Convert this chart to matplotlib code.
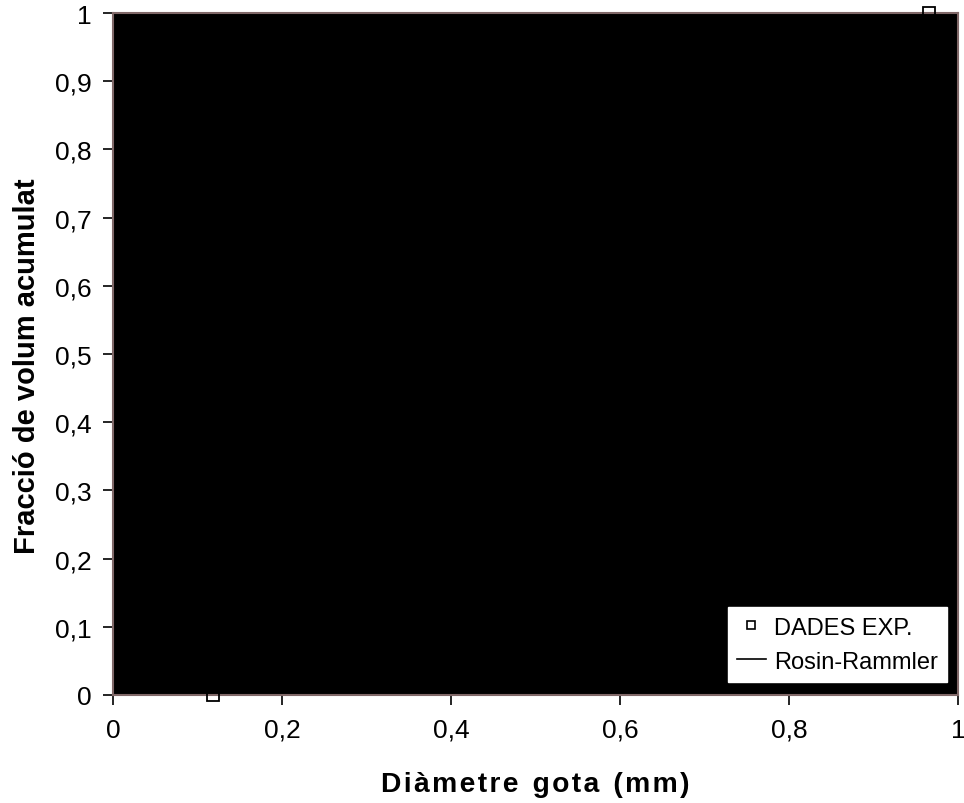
import matplotlib
matplotlib.use("Agg")
import matplotlib.pyplot as plt

# Data
exp_x = [0.118, 0.966]
exp_y = [0.0, 1.0]
rr_x = [0.118, 0.966]
rr_y = [0.0, 1.0]
xticks = [0, 0.2, 0.4, 0.6, 0.8, 1]
yticks = [0, 0.1, 0.2, 0.3, 0.4, 0.5, 0.6, 0.7, 0.8, 0.9, 1]

def fmt(v):
    return ("%g" % v).replace(".", ",")

plt.rcParams['font.family'] = ['Liberation Sans', 'DejaVu Sans']

W, H = 964, 804
L, R, T, B = 113, 958, 14, 696
fig = plt.figure(figsize=(W/100, H/100), dpi=100)
ax = fig.add_axes([L/W, 1-B/H, (R-L)/W, (B-T)/H])
ax.set_facecolor('black')

ax.plot(rr_x, rr_y, color='black', lw=1.2, label='Rosin-Rammler', zorder=2)
ax.plot(exp_x, exp_y, linestyle='none', marker='s', markersize=8,
        markerfacecolor='none', markeredgecolor='black', markeredgewidth=1.3,
        label='DADES EXP.', clip_on=False, zorder=3)

ax.set_xlim(0, 1)
ax.set_ylim(0, 1)
ax.set_xticks(xticks)
ax.set_xticklabels([fmt(v) for v in xticks])
ax.set_yticks(yticks)
ax.set_yticklabels([fmt(v) for v in yticks])
ax.tick_params(axis='both', direction='out', length=7.5, width=1.2, color='black',
               labelsize=19)
ax.tick_params(axis='y', pad=8)
ax.tick_params(axis='x', pad=9)

for s in ax.spines.values():
    s.set_color('#806868')
    s.set_linewidth(1.5)

xl = 'D i à m e t r e   g o t a   ( m m )'.replace('   ', '\u2002').replace(' ', '\u200a')
ax.set_xlabel(xl, fontsize=20.3, fontweight='bold', labelpad=21)
ax.set_ylabel('Fracció de volum acumulat', fontsize=21, fontweight='bold')
ax.yaxis.set_label_coords((41-L)/(R-L), (B-366)/(B-T))

handles, labels = ax.get_legend_handles_labels()
leg = ax.legend(handles[::-1], labels[::-1], loc='lower right',
                bbox_to_anchor=((947-L)/(R-L), (B-683)/(B-T)), borderaxespad=0,
                fontsize=17, frameon=True, fancybox=False, edgecolor='white',
                facecolor='white', framealpha=1, handlelength=1.2,
                handletextpad=0.34, borderpad=0.4, labelspacing=0.5)
leg.legend_handles[0].set_markersize(5.5)
leg.legend_handles[0].set_markeredgewidth(1.2)

fig.savefig('out.png', dpi=100)
